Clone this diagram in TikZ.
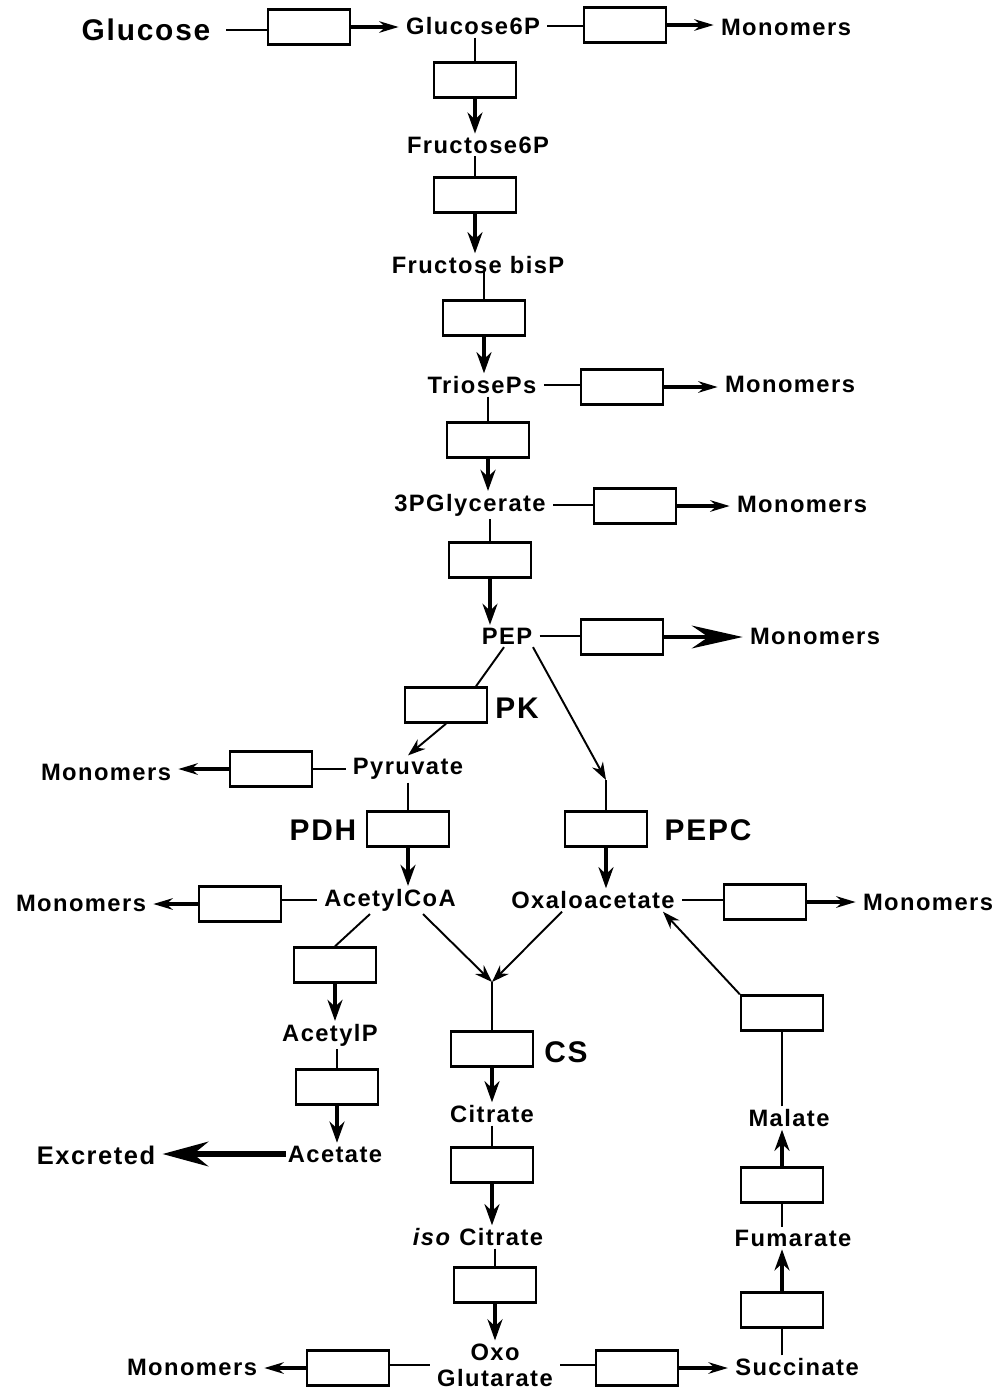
\documentclass[tikz,border=0pt]{standalone}
\usepackage{fontspec}
\usetikzlibrary{arrows.meta}

\newfontfamily\helv{Liberation Sans}[LetterSpace=6]
\newcommand\metfont{\helv\bfseries\fontsize{13.5}{15}\selectfont}
\newcommand\enzfont{\helv\bfseries\fontsize{17}{20}\selectfont}
\newcommand\exfont{\helv\bfseries\fontsize{14.5}{17}\selectfont}

\begin{document}
\begin{tikzpicture}[x=0.02cm, y=-0.02cm,
  met/.style={font=\metfont, inner xsep=4pt, inner ysep=1.5pt, align=center},
  enz/.style={font=\enzfont, inner sep=0pt},
  box/.style={draw, line width=1.4pt, minimum width=1.64cm, minimum height=0.7cm, inner sep=0pt},
  feed/.style={line width=1.1pt},
  flow/.style={line width=2pt, -{Stealth[length=12pt, width=8.5pt]}},
  side/.style={line width=1.8pt, -{Stealth[length=11pt, width=6.5pt]}},
  diag/.style={line width=1.1pt, -{Stealth[length=10pt, width=7pt]}},
  bigflow/.style={line width=2pt, -{Stealth[length=29pt, width=13pt]}},
  excr/.style={line width=3.2pt, -{Stealth[length=26pt, width=14pt]}},
]
\useasboundingbox (0,0) rectangle (1000,1390);

% metabolites
\node[enz, inner xsep=9pt] (glc) at (146,30) {Glucose};
\node[met] (g6p) at (473,26) {Glucose6P};
\node[met] (mon1) at (786,27) {Monomers};
\node[met] (f6p) at (478,145) {Fructose6P};
\node[met] (fbp) at (478,265) {Fructose bisP};
\node[met] (tri) at (482,385) {TriosePs};
\node[met] (mon2) at (790,384) {Monomers};
\node[met] (pg) at (470,505) {3PGlycerate};
\node[met] (mon3) at (802,504) {Monomers};
\node[met] (pep) at (507,636) {PEP};
\node[met] (mon4) at (815,636) {Monomers};
\node[met] (pyr) at (408,769) {Pyruvate};
\node[met] (mon5) at (106,772) {Monomers};
\node[met] (accoa) at (390,900) {AcetylCoA};
\node[met] (mon6) at (81,903) {Monomers};
\node[met] (oaa) at (593,900) {Oxaloacetate};
\node[met] (mon7) at (928,902) {Monomers};
\node[met] (acp) at (330,1035) {AcetylP};
\node[met, inner xsep=1pt] (ace) at (335,1154) {Acetate};
\node[met, font=\exfont] (exc) at (96,1155) {Excreted};
\node[met] (cit) at (492,1114) {Citrate};
\node[met] (icit) at (478,1237) {\textit{iso} Citrate};
\node[met] (og) at (495,1365) {Oxo\\Glutarate};
\node[met] (mon8) at (192,1367) {Monomers};
\node[met] (suc) at (797,1367) {Succinate};
\node[met] (fum) at (793,1238) {Fumarate};
\node[met] (mal) at (789,1118) {Malate};

% enzyme boxes
\node[box] (hk) at (309,27) {};
\node[box] (g6pout) at (625,25) {};
\node[box] (pgi) at (475,80) {};
\node[box] (pfk) at (475,195) {};
\node[box] (ald) at (484,318) {};
\node[box] (triout) at (622,387) {};
\node[box] (gap) at (488,440) {};
\node[box] (pgout) at (635,506) {};
\node[box] (eno) at (490,560) {};
\node[box] (pepout) at (622,637) {};
\node[box] (pk) at (446,705) {};
\node[box] (pyrout) at (271,769) {};
\node[box] (pdh) at (408,829) {};
\node[box] (pepc) at (606,829) {};
\node[box] (accoaout) at (240,904) {};
\node[box] (oaaout) at (765,902) {};
\node[box] (pta) at (335,965) {};
\node[box] (ack) at (337,1087) {};
\node[box] (cs) at (492,1049) {};
\node[box] (acn) at (492,1165) {};
\node[box] (icd) at (495,1285) {};
\node[box] (ogout) at (348,1368) {};
\node[box] (kgd) at (637,1368) {};
\node[box] (sdh) at (782,1310) {};
\node[box] (fumA) at (782,1185) {};
\node[box] (mdh) at (782,1013) {};

% enzyme names
\node[enz] (pklab) at (517,708) {PK};
\node[enz] (pdhlab) at (323,830) {PDH};
\node[enz] (pepclab) at (708,830) {PEPC};
\node[enz] (cslab) at (566,1052) {CS};

\coordinate (fbpout) at (484,272);
\coordinate (pepcin) at (606,780);
\coordinate (cit0) at (492,982);

% glycolysis
\draw[feed] (glc.east) -- (glc.east -| hk.west);
\draw[side] (hk.east) -- (hk.east -| g6p.west);
\draw[feed] (g6p.south -| pgi) -- (pgi.north);
\draw[flow] (pgi.south) -- (pgi.south |- f6p.north);
\draw[feed] (f6p.south -| pfk) -- (pfk.north);
\draw[flow] (pfk.south) -- (pfk.south |- fbp.north);
\draw[feed] (fbpout) -- (ald.north);
\draw[flow] (ald.south) -- (ald.south |- tri.north);
\draw[feed] (tri.south -| gap) -- (gap.north);
\draw[flow] (gap.south) -- (gap.south |- pg.north);
\draw[feed] (pg.south -| eno) -- (eno.north);
\draw[flow] (eno.south) -- (eno.south |- pep.north);

% drains to monomers
\draw[feed] (g6p.east) -- (g6p.east -| g6pout.west);
\draw[side] (g6pout.east) -- (g6pout.east -| mon1.west);
\draw[feed] (tri.east) -- (tri.east -| triout.west);
\draw[side] (triout.east) -- (triout.east -| mon2.west);
\draw[feed] (pg.east) -- (pg.east -| pgout.west);
\draw[side] (pgout.east) -- (pgout.east -| mon3.west);
\draw[feed] (pep.east) -- (pep.east -| pepout.west);
\draw[bigflow] (pepout.east) -- (pepout.east -| mon4.west);

% PEP branch point
\draw[feed] ([xshift=-0.06cm]pep.south) -- ([xshift=0.6cm]pk.north);
\draw[diag] (pk.south) -- (pyr.north);
\draw[diag] ([xshift=0.52cm]pep.south) -- (pepcin);
\draw[feed] (pepcin) -- (pepc.north);
\draw[flow] (pepc.south) -- (pepc.south |- oaa.north);
\draw[feed] (pyr.west) -- (pyr.west -| pyrout.east);
\draw[side] (pyrout.west) -- (pyrout.west -| mon5.east);
\draw[feed] (pyr.south) -- (pdh.north);
\draw[flow] (pdh.south) -- (pdh.south |- accoa.north);

% acetate overflow
\draw[feed] (accoa.west) -- (accoa.west -| accoaout.east);
\draw[side] (accoaout.west) -- (accoaout.west -| mon6.east);
\draw[feed] ([xshift=-0.4cm]accoa.south) -- (pta.north);
\draw[flow] (pta.south) -- (pta.south |- acp.north);
\draw[feed] (acp.south -| ack) -- (ack.north);
\draw[flow] (ack.south) -- (ack.south |- ace.north);
\draw[excr] (ace.west) -- (ace.west -| exc.east);

% TCA cycle
\draw[diag] ([xshift=0.66cm]accoa.south) -- (cit0);
\draw[diag] ([xshift=-0.62cm]oaa.south) -- (cit0);
\draw[feed] (cit0) -- (cs.north);
\draw[flow] (cs.south) -- (cit.north);
\draw[feed] (cit.south) -- (acn.north);
\draw[flow] (acn.south) -- (acn.south |- icit.north);
\draw[feed] (icit.south -| icd) -- (icd.north);
\draw[flow] (icd.south) -- (icd.south |- og.north);
\draw[feed] (og.west) -- (og.west -| ogout.east);
\draw[side] (ogout.west) -- (ogout.west -| mon8.east);
\draw[feed] (og.east) -- (og.east -| kgd.west);
\draw[side] (kgd.east) -- (kgd.east -| suc.west);
\draw[feed] (suc.north -| sdh) -- (sdh.south);
\draw[flow] (sdh.north) -- (sdh.north |- fum.south);
\draw[feed] (fum.north -| fumA) -- (fumA.south);
\draw[flow] (fumA.north) -- (fumA.north |- mal.south);
\draw[feed] (mal.north -| mdh) -- (mdh.south);
\draw[diag] (mdh.north west) -- ([xshift=1.4cm]oaa.south);
\draw[feed] (oaa.east) -- (oaa.east -| oaaout.west);
\draw[side] (oaaout.east) -- (oaaout.east -| mon7.west);

\end{tikzpicture}
\end{document}
